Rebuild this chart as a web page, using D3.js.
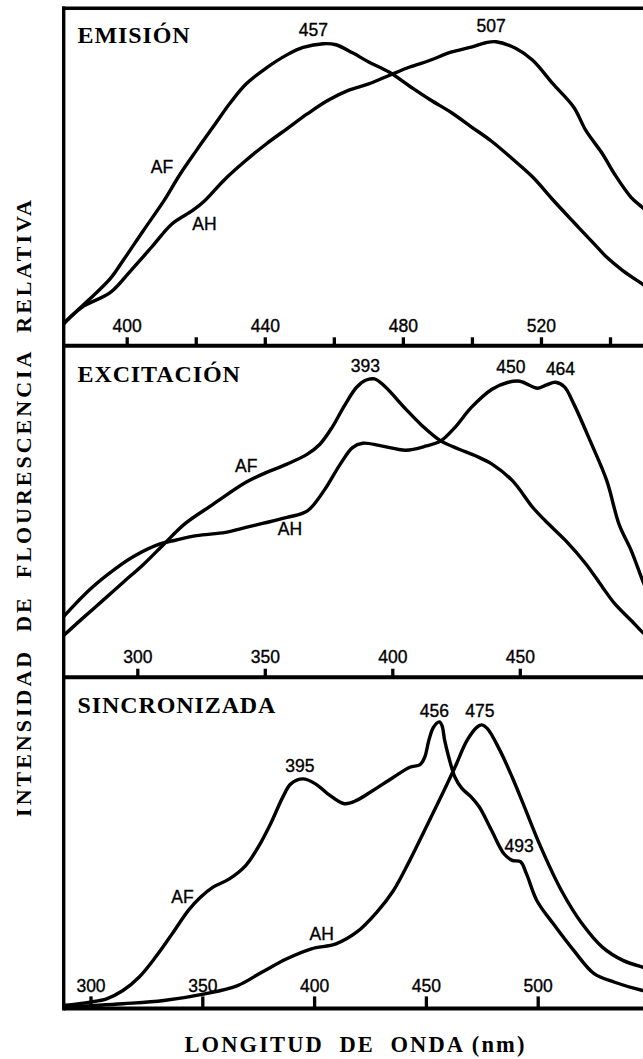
<!DOCTYPE html>
<html>
<head>
<meta charset="utf-8">
<script src="https://cdn.jsdelivr.net/npm/d3@7"></script>
<style>
  html, body { margin: 0; padding: 0; background: #fff; }
  svg { display: block; }
</style>
</head>
<body>
<script>
// ---------- Emission spectra (relative intensity, 0–100) ----------
const emisionAFLambda = [381.5, 388.8, 395.3, 398.9, 404.8, 410.8, 415.5, 420.2, 425.0, 429.8, 434.5, 440.4, 446.4, 451.1, 457.0, 460.6, 465.4, 470.1, 476.0, 482.0, 487.9, 493.9, 499.8, 505.7, 511.7, 517.6, 523.5, 529.5, 535.4, 539.0, 543.7, 549.4, 552.0];
const emisionAFValues = [6.5, 13.4, 20.0, 25.2, 34.1, 43.0, 50.9, 57.9, 64.8, 71.7, 77.5, 82.3, 86.2, 88.4, 89.5, 89.2, 86.8, 84.1, 81.1, 76.9, 72.9, 69.2, 64.9, 60.6, 55.4, 50.0, 43.2, 36.6, 30.2, 26.3, 22.3, 18.3, 16.5];
const emisionAHLambda = [381.5, 387.0, 395.3, 401.2, 407.2, 413.1, 419.1, 422.6, 428.6, 434.5, 440.4, 446.4, 452.3, 458.2, 464.2, 470.1, 476.0, 482.0, 487.9, 493.9, 499.8, 504.0, 507.0, 512.9, 517.6, 523.5, 529.5, 533.0, 537.8, 541.3, 546.1, 549.4, 552.0];
const emisionAHValues = [6.2, 11.4, 15.8, 22.3, 29.2, 36.1, 40.1, 43.0, 49.5, 54.9, 59.8, 64.3, 68.7, 72.7, 75.7, 77.6, 80.1, 82.6, 84.6, 87.0, 88.5, 89.8, 90.1, 88.0, 84.6, 77.6, 70.7, 63.8, 56.9, 50.9, 44.0, 41.0, 38.5];

// ---------- Excitation spectra ----------
const excitacionAFLambda = [271.0, 278.3, 286.4, 294.4, 302.5, 310.5, 318.5, 329.8, 342.6, 350.7, 358.7, 366.7, 371.6, 376.4, 381.2, 386.0, 389.5, 393.0, 397.0, 405.3, 411.7, 419.0, 426.2, 432.6, 439.1, 447.1, 455.1, 460.0, 468.0, 476.0, 482.5, 487.3, 493.7, 498.2, 500.0];
const excitacionAFValues = [12.5, 17.6, 23.1, 28.6, 34.1, 40.2, 46.2, 52.2, 58.8, 61.8, 64.3, 67.3, 70.3, 75.4, 81.9, 87.5, 89.6, 90.0, 87.8, 80.9, 75.9, 71.3, 68.8, 66.8, 64.3, 59.3, 51.2, 47.2, 41.2, 34.1, 27.1, 22.1, 17.1, 13.5, 12.5];
const excitacionAHLambda = [271.0, 281.6, 291.2, 299.2, 308.9, 315.3, 323.3, 334.6, 342.6, 349.1, 358.7, 366.7, 373.2, 379.6, 384.4, 388.4, 395.7, 405.3, 413.4, 419.0, 424.6, 431.0, 439.1, 445.5, 450.0, 457.0, 460.5, 464.0, 467.5, 471.2, 477.6, 484.1, 488.9, 493.7, 498.2, 500.0];
const excitacionAHValues = [18.2, 26.6, 32.6, 36.7, 40.2, 41.4, 42.7, 43.7, 45.2, 46.4, 48.2, 50.2, 56.3, 64.3, 69.3, 70.6, 69.8, 68.5, 69.8, 71.3, 75.4, 81.4, 86.9, 89.0, 89.3, 87.2, 88.2, 89.0, 87.6, 82.4, 71.3, 59.3, 46.2, 38.2, 29.1, 26.0];

// ---------- Synchronous spectra ----------
const sincronizadaAFLambda = [287.0, 299.8, 307.2, 314.5, 321.8, 329.1, 336.5, 343.8, 349.3, 354.8, 362.1, 369.5, 375.0, 380.5, 386.0, 389.6, 395.0, 400.6, 406.1, 413.5, 419.0, 426.3, 435.5, 442.8, 447.4, 449.5, 451.3, 453.4, 456.0, 457.2, 458.4, 460.2, 463.0, 466.0, 470.3, 473.9, 479.4, 484.9, 488.6, 492.3, 495.0, 499.6, 506.9, 516.1, 525.2, 534.4, 546.9, 550.0];
const sincronizadaAFValues = [0.8, 1.9, 2.9, 5.4, 9.5, 15.5, 22.5, 29.6, 33.6, 36.6, 39.1, 43.2, 48.7, 55.7, 63.8, 67.8, 69.3, 67.8, 64.8, 61.8, 62.8, 65.8, 69.8, 72.8, 73.6, 75.9, 80.9, 84.9, 86.5, 85.4, 80.9, 75.9, 69.8, 66.5, 63.8, 60.8, 53.7, 46.7, 44.7, 44.3, 40.6, 32.6, 25.6, 17.5, 10.5, 7.9, 5.4, 5.0];
const sincronizadaAHLambda = [287.0, 314.5, 332.8, 351.1, 365.8, 376.8, 387.8, 398.8, 409.8, 419.0, 428.1, 435.5, 442.8, 450.1, 457.4, 463.0, 468.4, 473.0, 475.0, 477.6, 483.1, 488.6, 494.1, 501.4, 510.6, 519.8, 528.9, 538.1, 546.9, 550.0];
const sincronizadaAHValues = [0.3, 1.4, 2.4, 4.4, 6.9, 11.0, 15.0, 18.0, 19.5, 23.0, 29.1, 35.6, 44.7, 54.7, 64.8, 72.8, 80.9, 85.0, 85.6, 84.4, 77.9, 69.8, 60.8, 48.7, 35.6, 25.6, 18.5, 14.5, 12.5, 12.0];

// ---------- Axis ticks (nm) ----------
const emisionTicks = [400, 420, 440, 460, 480, 500, 520, 540];
const emisionTickLabels = [400, 440, 480, 520];
const excitacionTicks = [300, 350, 400, 450];
const excitacionTickLabels = [300, 350, 400, 450];
const sincronizadaTicks = [300, 350, 400, 450, 500];
const sincronizadaTickLabels = [300, 350, 400, 450, 500];

// ---------- Peak wavelengths marked on the curves ----------
const emisionPeaks = [457, 507];
const excitacionPeaks = [393, 450, 464];
const sincronizadaPeaks = [395, 456, 475, 493];

// ---------- Text ----------
const panelTitles = ["EMISIÓN", "EXCITACIÓN", "SINCRONIZADA"];
const seriesNames = ["AF", "AH"];
const yTitle = "INTENSIDAD  DE  FLOURESCENCIA  RELATIVA";
const xTitle = "LONGITUD  DE  ONDA (nm)";

// ================= Layout =================
const W = 643, H = 1059;
const frameLeft = 63.7;
const frameRight = 680;
const serif = "'Liberation Serif', 'Times New Roman', serif";
const sans = "'Liberation Sans', Arial, Helvetica, sans-serif";
const numberSize = "17.5px";

const zip = (xs, ys) => xs.map((x, i) => ({ x, y: ys[i] }));

const panels = [
  {
    title: panelTitles[0], top: 8.3, bottom: 345.8,
    domain: [400, 540], range: [126.7, 610.0],
    ticks: emisionTicks, tickLabels: emisionTickLabels, tickSize: 8.5, labelLift: 14.2,
    series: [zip(emisionAFLambda, emisionAFValues), zip(emisionAHLambda, emisionAHValues)],
    peaks: emisionPeaks, peakDx: [-10, -5], peakY: [27.4, 24.0],
    names: [{ x: 161.9, y: 165.0 }, { x: 204.5, y: 221.7 }],
    titleY: 34.4
  },
  {
    title: panelTitles[1], top: 345.8, bottom: 677.2,
    domain: [300, 450], range: [137.3, 519.8],
    ticks: excitacionTicks, tickLabels: excitacionTickLabels, tickSize: 8.5, labelLift: 14.0,
    series: [zip(excitacionAFLambda, excitacionAFValues), zip(excitacionAHLambda, excitacionAHValues)],
    peaks: excitacionPeaks, peakDx: [-9, -9, 5], peakY: [25.9, 26.9, 29.2],
    names: [{ x: 246.3, y: 125.9 }, { x: 290.0, y: 189.2 }],
    titleY: 35.9
  },
  {
    title: panelTitles[2], top: 677.2, bottom: 1008.4,
    domain: [300, 500], range: [90.5, 537.7],
    ticks: sincronizadaTicks, tickLabels: sincronizadaTickLabels, tickSize: 12, labelLift: 16.6,
    series: [zip(sincronizadaAFLambda, sincronizadaAFValues), zip(sincronizadaAHLambda, sincronizadaAHValues)],
    peaks: sincronizadaPeaks, peakDx: [-3, -5, -2, -3], peakY: [94.5, 40.1, 39.5, 174.5],
    names: [{ x: 182.4, y: 226.1 }, { x: 321.7, y: 262.8 }],
    titleY: 35.5
  }
];

const svg = d3.select("body").append("svg")
  .attr("width", W).attr("height", H)
  .attr("viewBox", `0 0 ${W} ${H}`);

svg.append("rect").attr("width", W).attr("height", H).attr("fill", "#fff");

const defs = svg.append("defs");

// numbers are printed slightly heavier than a plain regular face
const styleNumber = sel => sel
  .style("font-family", sans)
  .style("font-size", numberSize)
  .attr("fill", "#000")
  .attr("stroke", "#000")
  .attr("stroke-width", 0.35);

panels.forEach((p, i) => {
  const x = d3.scaleLinear().domain(p.domain).range(p.range);
  const y = d3.scaleLinear().domain([0, 100]).range([p.bottom, p.top]);

  defs.append("clipPath").attr("id", `clip-${i}`)
    .append("rect")
    .attr("x", frameLeft).attr("y", p.top)
    .attr("width", frameRight - frameLeft).attr("height", p.bottom - p.top);

  const g = svg.append("g");

  // spectra
  const line = d3.line()
    .x(d => x(d.x)).y(d => y(d.y))
    .curve(d3.curveCatmullRom.alpha(0.5));

  g.append("g").attr("clip-path", `url(#clip-${i})`)
    .selectAll("path").data(p.series).join("path")
    .attr("d", line)
    .attr("fill", "none")
    .attr("stroke", "#000")
    .attr("stroke-width", 3.4)
    .attr("stroke-linejoin", "round")
    .attr("stroke-linecap", "round");

  // wavelength axis: ticks pointing up into the panel, labels above them
  const labelSet = new Set(p.tickLabels);
  const axis = d3.axisTop(x)
    .tickValues(p.ticks)
    .tickSize(p.tickSize)
    .tickSizeOuter(0)
    .tickPadding(p.labelLift - p.tickSize)
    .tickFormat(d => labelSet.has(d) ? String(d) : "");

  const ax = g.append("g")
    .attr("transform", `translate(0,${p.bottom})`)
    .call(axis);
  ax.select(".domain").remove();
  ax.selectAll(".tick line").attr("stroke", "#000").attr("stroke-width", 3.3);
  ax.selectAll(".tick text").attr("dy", "0").call(styleNumber);

  // baseline of the panel
  svg.append("line")
    .attr("x1", frameLeft).attr("x2", frameRight)
    .attr("y1", p.bottom).attr("y2", p.bottom)
    .attr("stroke", "#000").attr("stroke-width", 4);

  // panel title
  g.append("text")
    .attr("x", 77.5).attr("y", p.top + p.titleY)
    .style("font-family", serif)
    .style("font-weight", "bold")
    .style("font-size", "24px")
    .style("letter-spacing", "0.9px")
    .attr("fill", "#000")
    .text(p.title);

  // peak wavelengths
  g.selectAll("text.peak").data(p.peaks).join("text")
    .attr("class", "peak")
    .attr("x", (d, k) => x(d) + p.peakDx[k])
    .attr("y", (d, k) => p.top + p.peakY[k])
    .attr("text-anchor", "middle")
    .call(styleNumber)
    .text(d => d);

  // series names
  g.selectAll("text.name").data(seriesNames).join("text")
    .attr("class", "name")
    .attr("x", (d, k) => p.names[k].x)
    .attr("y", (d, k) => p.top + p.names[k].y)
    .attr("text-anchor", "middle")
    .call(styleNumber)
    .text(d => d);
});

// top edge and left edge of the frame
svg.append("line")
  .attr("x1", frameLeft - 1.7).attr("x2", frameRight)
  .attr("y1", panels[0].top).attr("y2", panels[0].top)
  .attr("stroke", "#000").attr("stroke-width", 3.4);
svg.append("line")
  .attr("x1", frameLeft).attr("x2", frameLeft)
  .attr("y1", panels[0].top - 1.7).attr("y2", panels[2].bottom + 2)
  .attr("stroke", "#000").attr("stroke-width", 3.4);

// vertical title
svg.append("text")
  .attr("transform", "translate(30.5,507) rotate(-90)")
  .attr("text-anchor", "middle")
  .style("font-family", serif)
  .style("font-weight", "bold")
  .style("font-size", "22px")
  .style("letter-spacing", "3px")
  .style("white-space", "pre")
  .attr("fill", "#000")
  .text(yTitle);

// horizontal title, stretched over its printed width
svg.append("text")
  .attr("x", 184.4)
  .attr("y", 1051.7)
  .attr("textLength", 340)
  .attr("lengthAdjust", "spacing")
  .style("font-family", serif)
  .style("font-weight", "bold")
  .style("font-size", "22.5px")
  .style("white-space", "pre")
  .attr("fill", "#000")
  .text(xTitle);
</script>
</body>
</html>
